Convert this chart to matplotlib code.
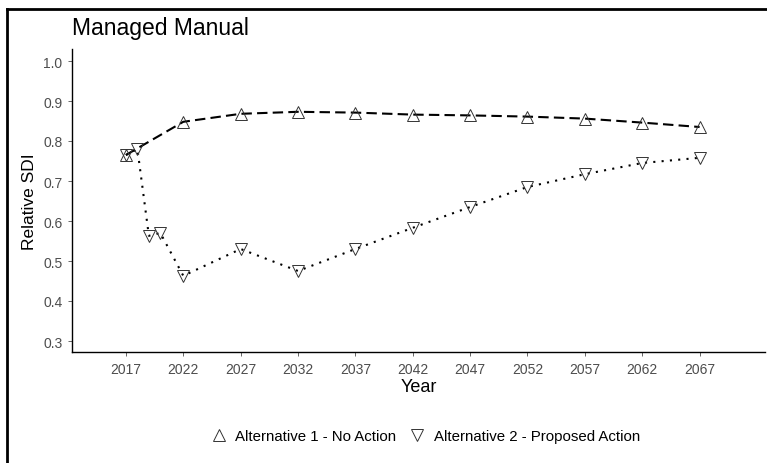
import numpy as np
import matplotlib.pyplot as plt
from matplotlib.lines import Line2D

plt.rcParams['font.family'] = ['Liberation Sans', 'DejaVu Sans']

# data
years_alt1 = [2017, 2022, 2027, 2032, 2037, 2042, 2047, 2052, 2057, 2062, 2067]
sdi_alt1 = [0.765, 0.848, 0.868, 0.873, 0.871, 0.866, 0.864, 0.861, 0.856, 0.846, 0.835]

years_alt2 = [2017, 2018, 2019, 2020, 2022, 2027, 2032, 2037, 2042, 2047, 2052, 2057, 2062, 2067]
sdi_alt2 = [0.765, 0.78, 0.563, 0.57, 0.463, 0.53, 0.475, 0.53, 0.583, 0.635, 0.685, 0.717, 0.745, 0.758]

xticks = [2017, 2022, 2027, 2032, 2037, 2042, 2047, 2052, 2057, 2062, 2067]
yticks = [0.3, 0.4, 0.5, 0.6, 0.7, 0.8, 0.9, 1.0]

fig = plt.figure(figsize=(7.67, 4.64), dpi=100)
ax = fig.add_axes([72/767, 111/464, 693/767, 303/464])

ax.plot(years_alt1, sdi_alt1, color='black', linestyle=(0, (5, 2.5)), linewidth=1.5,
        marker='^', markersize=8, markerfacecolor='none', markeredgecolor='#333333',
        markeredgewidth=0.7)
ax.plot(years_alt2, sdi_alt2, color='black', linestyle=(0, (1, 3)), linewidth=1.5,
        marker='v', markersize=8, markerfacecolor='none', markeredgecolor='#333333',
        markeredgewidth=0.7)

ax.set_xlim(2012.3, 2072.7)
ax.set_ylim(0.2725, 1.03)
ax.set_xticks(xticks)
ax.set_yticks(yticks)
ax.set_yticklabels([f'{v:.1f}' for v in yticks])
ax.tick_params(labelsize=10, colors='#4d4d4d', length=3, width=0.6, pad=4)
for s in ['top', 'right']:
    ax.spines[s].set_visible(False)
for s in ['left', 'bottom']:
    ax.spines[s].set_linewidth(1.0)

ax.set_xlabel('Year', fontsize=13, labelpad=2)
ax.set_ylabel('Relative SDI', fontsize=12.5, labelpad=4)
fig.text(72/767, 1 - 28/464, 'Managed Manual', fontsize=16.5, va='center', ha='left')

handles = [
    Line2D([], [], linestyle='none', marker='^', markersize=8, markerfacecolor='none',
           markeredgecolor='#333333', markeredgewidth=0.7),
    Line2D([], [], linestyle='none', marker='v', markersize=8, markerfacecolor='none',
           markeredgecolor='#333333', markeredgewidth=0.7),
]
fig.legend(handles, ['Alternative 1 - No Action', 'Alternative 2 - Proposed Action'],
           loc='center', bbox_to_anchor=(425/767, 1 - 437/464), ncol=2, frameon=False,
           fontsize=10.8, handletextpad=0.5, columnspacing=0.8, handlelength=1.2)

# cropped outer frame (left and top edges only)
fig.add_artist(Line2D([7/767, 7/767], [0, 1 - 10/464], transform=fig.transFigure,
                      color='black', linewidth=2))
fig.add_artist(Line2D([7/767, 1], [1 - 10/464, 1 - 10/464], transform=fig.transFigure,
                      color='black', linewidth=2))

fig.savefig('out.png', dpi=100)
